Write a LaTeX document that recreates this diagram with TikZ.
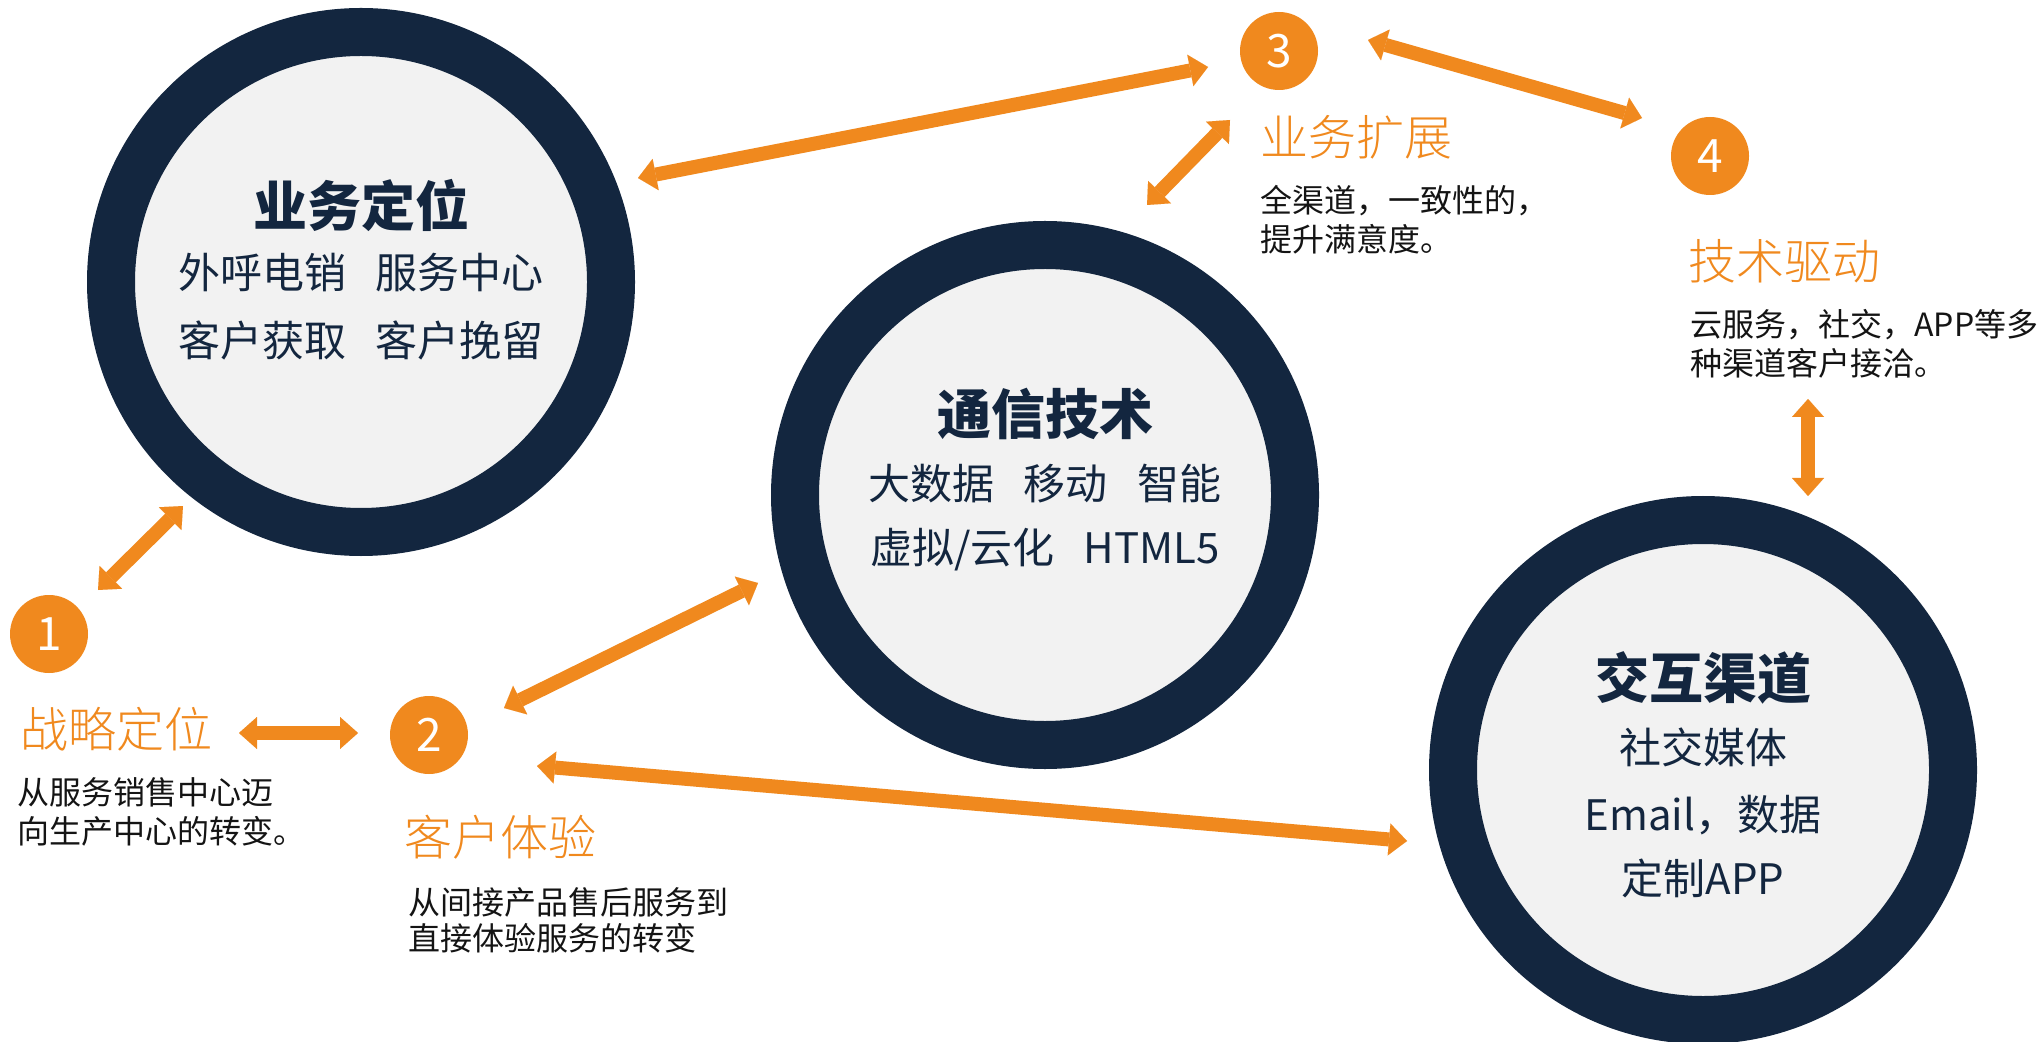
\documentclass[tikz,border=0pt]{standalone}
\usepackage{fontspec}
\setmainfont{Noto Sans CJK SC}
\newfontfamily\lightfont{Noto Sans CJK SC Light}
\usetikzlibrary{arrows.meta}
\definecolor{navy}{HTML}{13263F}
\definecolor{ringfill}{HTML}{F2F2F2}
\definecolor{org}{HTML}{F0891E}
\definecolor{ink}{HTML}{141414}
\begin{document}
\begin{tikzpicture}[x=0.5pt,y=-0.5pt,
  bigc/.style={circle, draw=navy, fill=ringfill, line width=24pt, minimum size=250pt, inner sep=0pt},
  numc/.style={circle, fill=org, minimum size=39pt, inner sep=0pt, text=white, font=\fontsize{23}{23}\selectfont},
  ttl/.style={text=navy, font=\fontsize{27}{27}\selectfont\bfseries, inner sep=0pt},
  sub/.style={text=navy, font=\fontsize{21}{21}\selectfont, inner sep=0pt},
  lbl/.style={text=org, anchor=west, font=\lightfont\fontsize{24}{24}\selectfont, inner sep=0pt},
  txt/.style={text=ink, anchor=west, font=\fontsize{16}{16}\selectfont, inner sep=0pt},
  arr/.style={draw=org, line width=7pt, {Triangle[length=9pt,width=16pt,line width=0.01pt]}-{Triangle[length=9pt,width=16pt,line width=0.01pt]}}
]
\fill[white] (0,0) rectangle (2043,1042);
\useasboundingbox (0,0) rectangle (2043,1042);

% big circles
\node[bigc] (c1) at (361,282) {};
\node[bigc] (c2) at (1045,495) {};
\node[bigc] (c3) at (1703,770) {};

\node[ttl] (c1t) at (361,205) {业务定位};
\node[sub] (c1a) at (361,273) {外呼电销\hspace{0.7em}服务中心};
\node[sub] (c1b) at (361,340) {客户获取\hspace{0.7em}客户挽留};

\node[ttl] (c2t) at (1045,414) {通信技术};
\node[sub] (c2a) at (1045,484) {大数据\hspace{0.7em}移动\hspace{0.7em}智能};
\node[sub] (c2b) at (1045,550) {虚拟/云化\hspace{0.7em}HTML5};

\node[ttl] (c3t) at (1703,678) {交互渠道};
\node[sub] (c3a) at (1703,747) {社交媒体};
\node[sub] (c3b) at (1703,815) {Email，数据};
\node[sub] (c3c) at (1703,878) {定制APP};

% number circles
\node[numc] (n1) at (49,634) {1};
\node[numc] (n2) at (429,735) {2};
\node[numc] (n3) at (1279,51) {3};
\node[numc] (n4) at (1710,156) {4};

% labels and descriptions
\node[lbl] (l1) at (20,729) {战略定位};
\node[txt] (t1a) at (17,792) {从服务销售中心迈};
\node[txt] (t1b) at (17,831) {向生产中心的转变。};

\node[lbl] (l2) at (404,837) {客户体验};
\node[txt] (t2a) at (408,902) {从间接产品售后服务到};
\node[txt] (t2b) at (408,938) {直接体验服务的转变};

\node[lbl] (l3) at (1260,137) {业务扩展};
\node[txt] (t3a) at (1260,201) {全渠道，一致性的，};
\node[txt] (t3b) at (1260,239) {提升满意度。};

\node[lbl] (l4) at (1688,261) {技术驱动};
\node[txt] (t4a) at (1690,325) {云服务，社交，APP等多};
\node[txt] (t4b) at (1690,363) {种渠道客户接洽。};

% arrow end points
\coordinate (a1s) at (183,506);  \coordinate (a1e) at (98,590);
\coordinate (a2s) at (239,733);  \coordinate (a2e) at (358,733);
\coordinate (a3s) at (758,583);  \coordinate (a3e) at (504,708);
\coordinate (a4s) at (537,766);  \coordinate (a4e) at (1407,841);
\coordinate (a5s) at (638,178);  \coordinate (a5e) at (1208,67);
\coordinate (a6s) at (1147,205); \coordinate (a6e) at (1230,120);
\coordinate (a7s) at (1368,40);  \coordinate (a7e) at (1642,118);
\coordinate (a8s) at (1808,399); \coordinate (a8e) at (1808,496);

\draw[arr] (a1s) -- (a1e);
\draw[arr] (a2s) -- (a2e);
\draw[arr] (a3s) -- (a3e);
\draw[arr] (a4s) -- (a4e);
\draw[arr] (a5s) -- (a5e);
\draw[arr] (a6s) -- (a6e);
\draw[arr] (a7s) -- (a7e);
\draw[arr] (a8s) -- (a8e);
\end{tikzpicture}
\end{document}
